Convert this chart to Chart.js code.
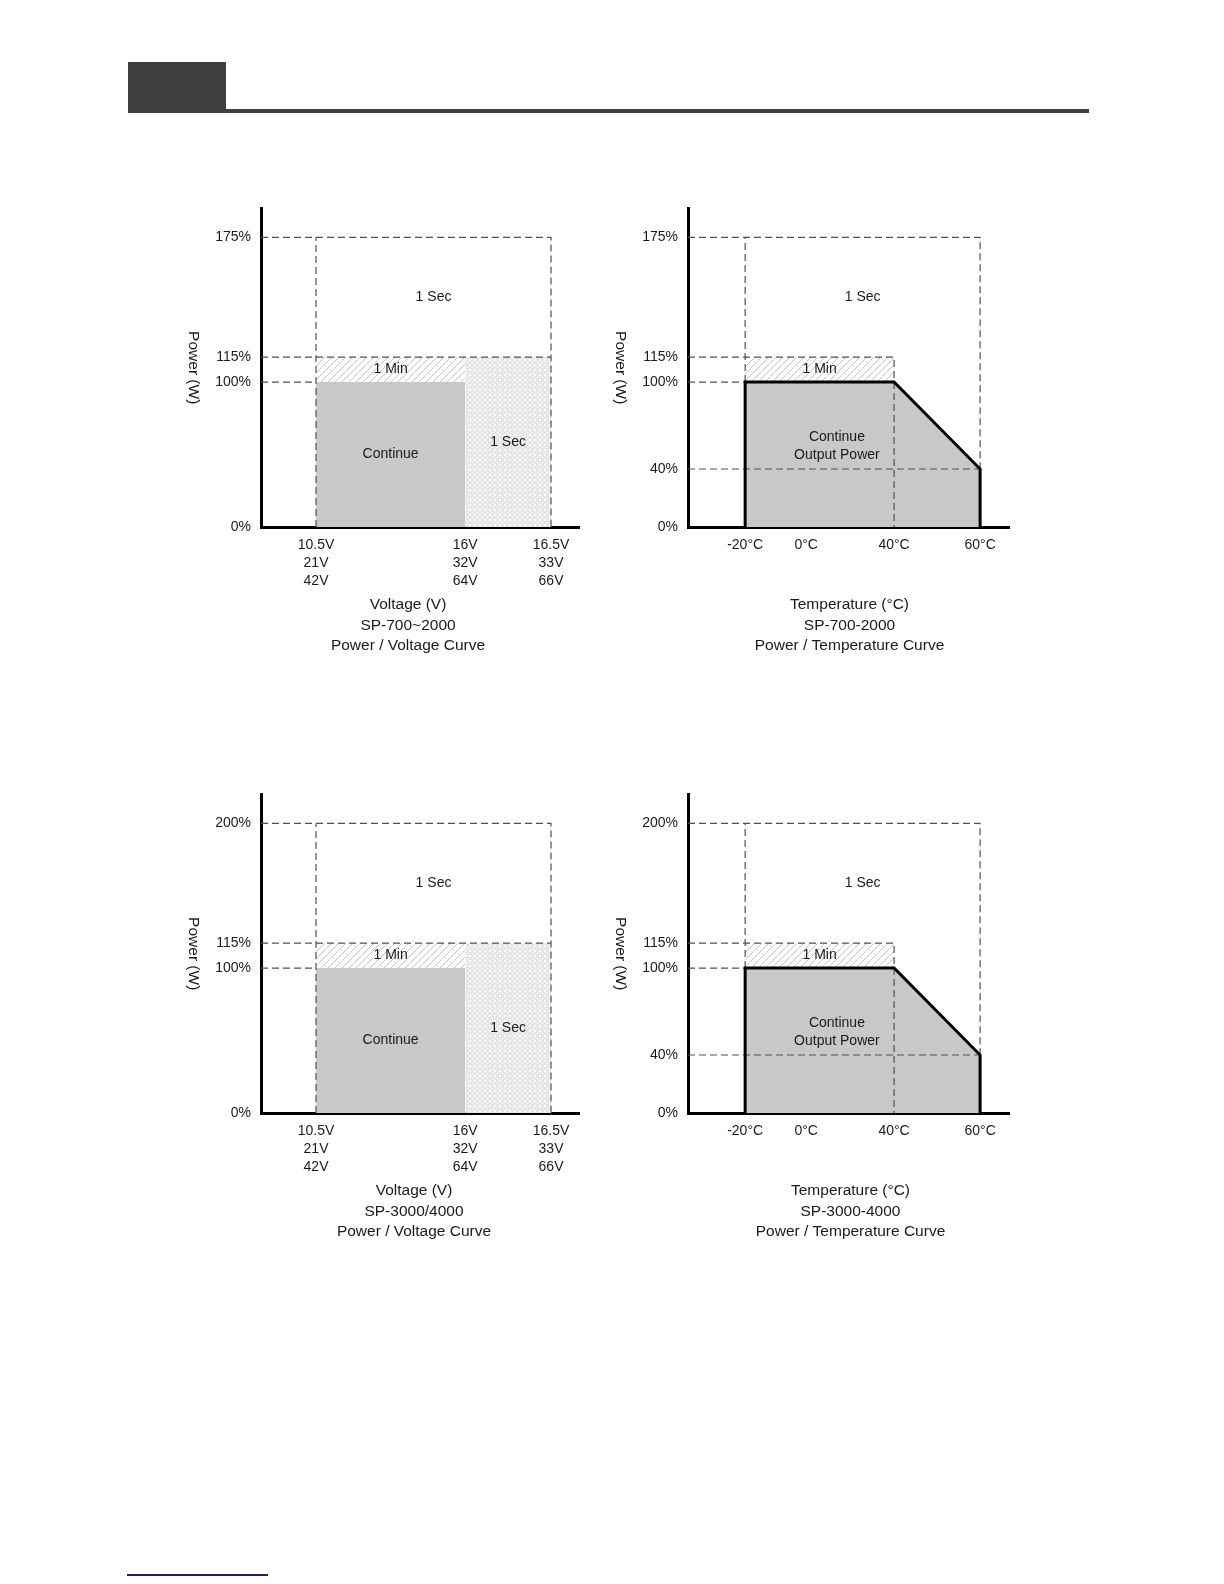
<!DOCTYPE html>
<html>
<head>
<meta charset="utf-8">
<script src="https://cdn.jsdelivr.net/npm/chart.js@4.4.1/dist/chart.umd.min.js"></script>
<style>
  body { margin: 0; background: #fff; }
  #page { position: relative; width: 1224px; height: 1584px; overflow: hidden; background: #fff; }
  .tab { position: absolute; left: 128px; top: 62px; width: 98px; height: 51px; background: #404040; }
  .rule { position: absolute; left: 226px; top: 109px; width: 863px; height: 4px; background: #404040; }
  .foot { position: absolute; left: 127px; top: 1574px; width: 141px; height: 2px; background: #1c1c80; }
  .box { position: absolute; width: 430px; height: 480px; }
</style>
</head>
<body>
<div id="page">
  <div class="tab"></div>
  <div class="rule"></div>
  <div class="box" style="left:170px;top:190px"><canvas id="voltSmall"></canvas></div>
  <div class="box" style="left:600px;top:190px"><canvas id="tempSmall"></canvas></div>
  <div class="box" style="left:170px;top:776px"><canvas id="voltLarge"></canvas></div>
  <div class="box" style="left:600px;top:776px"><canvas id="tempLarge"></canvas></div>
  <div class="foot"></div>
</div>
<script>
// ---- data read from the sheet ----
const voltTicks = [10.5, 16, 16.5];
const voltLabels = [['10.5V', '21V', '42V'], ['16V', '32V', '64V'], ['16.5V', '33V', '66V']];
const tempTicks = [-20, 0, 40, 60];
const tempLabels = ['-20°C', '0°C', '40°C', '60°C'];

const peakSmall = 175;   // SP-700~2000
const peakLarge = 200;   // SP-3000/4000
const minLevel = 115;    // 1 Min overload
const ratedLevel = 100;  // continuous
const hotLevel = 40;     // at 60°C

const voltPowerTicksSmall = [0, 100, 115, 175];
const voltPowerTicksLarge = [0, 100, 115, 200];
const tempPowerTicksSmall = [0, 40, 100, 115, 175];
const tempPowerTicksLarge = [0, 40, 100, 115, 200];

// derating curve
const deratingTemp = [-20, -20, 40, 60, 60];
const deratingPower = [0, 100, 100, 40, 0];

// ---- piecewise axis (the sheet's axes are not to scale) ----
class PiecewiseScale extends Chart.LinearScale {
  knots() {
    const raw = this.chart.config.options.scales[this.id];
    return [raw.knots, raw.fracs];
  }
  getPixelForValue(value) {
    const [k, f] = this.knots();
    let i = 0;
    while (i < k.length - 2 && value > k[i + 1]) i++;
    const t = (value - k[i]) / (k[i + 1] - k[i]);
    return this.getPixelForDecimal(f[i] + t * (f[i + 1] - f[i]));
  }
  getValueForPixel(pixel) {
    const [k, f] = this.knots();
    const d = this.getDecimalForPixel(pixel);
    let i = 0;
    while (i < f.length - 2 && d > f[i + 1]) i++;
    const t = (d - f[i]) / (f[i + 1] - f[i]);
    return k[i] + t * (k[i + 1] - k[i]);
  }
}
PiecewiseScale.id = 'piecewise';
Chart.register(PiecewiseScale);

const FONT = '"Liberation Sans", Arial, sans-serif';
const GRAY = '#c8c8c8';
const DASH = '#505050';

function hatch() {
  const c = document.createElement('canvas');
  c.width = c.height = 7;
  const g = c.getContext('2d');
  g.fillStyle = '#fff';
  g.fillRect(0, 0, 7, 7);
  g.strokeStyle = '#b4b4b4';
  g.lineWidth = 0.8;
  g.beginPath();
  g.moveTo(0, 7); g.lineTo(7, 0);
  g.moveTo(-1, 1); g.lineTo(1, -1);
  g.moveTo(6, 8); g.lineTo(8, 6);
  g.stroke();
  return g.createPattern(c, 'repeat');
}

function dots() {
  const c = document.createElement('canvas');
  c.width = c.height = 5;
  const g = c.getContext('2d');
  g.fillStyle = '#fafafa';
  g.fillRect(0, 0, 5, 5);
  g.strokeStyle = '#c4c4c4';
  g.lineWidth = 0.7;
  g.beginPath();
  g.arc(2.5, 2.5, 1.8, 0, Math.PI * 2);
  g.stroke();
  return g.createPattern(c, 'repeat');
}

function pts(xs, ys) {
  return xs.map((x, i) => ({ x: x, y: ys[i] }));
}

function guide(points) {
  return {
    data: points.map(p => ({ x: p[0], y: p[1] })),
    borderColor: DASH, borderWidth: 1.2, borderDash: [7, 4],
    fill: false, order: 1
  };
}

// draws region labels, caption and the y title
function decor(cfg) {
  return {
    id: 'decor',
    afterDraw(chart) {
      const { ctx, chartArea, scales } = chart;
      const x = scales.x, y = scales.y;
      ctx.save();
      ctx.fillStyle = '#1a1a1a';
      ctx.textAlign = 'center';
      ctx.textBaseline = 'middle';
      ctx.font = '14px ' + FONT;
      cfg.labels.forEach(l => {
        const px = (x.getPixelForValue(l.xs[0]) + x.getPixelForValue(l.xs[1])) / 2;
        const py = (y.getPixelForValue(l.ys[0]) + y.getPixelForValue(l.ys[1])) / 2;
        const lines = l.text.split('\n');
        lines.forEach((t, i) => ctx.fillText(t, px, py + (i - (lines.length - 1) / 2) * 18));
      });
      ctx.font = '15.5px ' + FONT;
      const cx = (chartArea.left + chartArea.right) / 2 + cfg.shift;
      cfg.caption.forEach((t, i) => ctx.fillText(t, cx, chartArea.bottom + 78 + i * 20.5));
      ctx.translate(chartArea.left - 68, (chartArea.top + chartArea.bottom) / 2);
      ctx.rotate(Math.PI / 2);
      ctx.fillText('Power (W)', 0, 0);
      ctx.restore();
    }
  };
}

function baseOptions(xCfg, yCfg, yWidth) {
  return {
    responsive: true,
    maintainAspectRatio: false,
    animation: false,
    events: [],
    layout: { padding: { left: 0, top: 17, right: 21, bottom: 0 } },
    elements: { point: { radius: 0 }, line: { tension: 0 } },
    plugins: { legend: { display: false }, tooltip: { enabled: false } },
    scales: {
      x: {
        type: 'piecewise',
        min: xCfg.knots[0],
        max: xCfg.knots[xCfg.knots.length - 1],
        knots: xCfg.knots,
        fracs: xCfg.fracs,
        afterBuildTicks: s => { s.ticks = xCfg.ticks.map(v => ({ value: v })); },
        afterFit: s => { s.height = 143; },
        grid: { display: false, drawTicks: false },
        border: { display: true, color: '#000', width: 3 },
        ticks: {
          autoSkip: false, maxRotation: 0, padding: 9,
          color: '#1a1a1a', font: { family: FONT, size: 14, lineHeight: 1.3 },
          callback: (v, i) => xCfg.labels[i]
        }
      },
      y: {
        type: 'piecewise',
        min: 0,
        max: yCfg.peak + 15,
        knots: [0, ratedLevel, minLevel, yCfg.peak, yCfg.peak + 15],
        fracs: [0, 0.455, 0.533, 0.909, 1],
        afterBuildTicks: s => { s.ticks = yCfg.ticks.map(v => ({ value: v })); },
        afterFit: s => { s.width = yWidth; },
        grid: { display: false, drawTicks: false },
        border: { display: true, color: '#000', width: 3 },
        ticks: {
          autoSkip: false, padding: 10,
          color: '#1a1a1a', font: { family: FONT, size: 14 },
          callback: v => v + '%'
        }
      }
    }
  };
}

function voltChart(id, peak, yTicks, caption, shift) {
  const xCfg = {
    knots: [9.5, 10.5, 16, 16.5, 17],
    fracs: [0, 0.173, 0.642, 0.912, 1],
    ticks: voltTicks, labels: voltLabels
  };
  const lo = voltTicks[0], mid = voltTicks[1], hi = voltTicks[2], x0 = xCfg.knots[0];
  new Chart(document.getElementById(id), {
    type: 'line',
    data: {
      datasets: [
        guide([[x0, peak], [hi, peak], [hi, 0]]),
        guide([[x0, minLevel], [hi, minLevel]]),
        guide([[x0, ratedLevel], [lo, ratedLevel]]),
        guide([[lo, 0], [lo, peak]]),
        { data: pts([lo, mid], [ratedLevel, ratedLevel]), fill: 'origin',
          backgroundColor: GRAY, borderWidth: 0, order: 3 },
        { data: pts([lo, mid], [minLevel, minLevel]), fill: { value: ratedLevel },
          backgroundColor: hatch(), borderWidth: 0, order: 3 },
        { data: pts([mid, hi], [minLevel, minLevel]), fill: 'origin',
          backgroundColor: dots(), borderWidth: 0, order: 3 }
      ]
    },
    options: baseOptions(xCfg, { peak: peak, ticks: yTicks }, 91),
    plugins: [decor({
      shift: shift,
      caption: caption,
      labels: [
        { text: '1 Sec', xs: [lo, hi], ys: [minLevel, peak] },
        { text: '1 Min', xs: [lo, mid], ys: [ratedLevel, minLevel] },
        { text: 'Continue', xs: [lo, mid], ys: [0, ratedLevel] },
        { text: '1 Sec', xs: [mid, hi], ys: [0, minLevel] }
      ]
    })]
  });
}

function tempChart(id, peak, yTicks, caption, shift) {
  const xCfg = {
    knots: [-40, -20, 0, 40, 60, 70],
    fracs: [0, 0.178, 0.368, 0.642, 0.910, 1],
    ticks: tempTicks, labels: tempLabels
  };
  const cold = tempTicks[0], knee = tempTicks[2], hot = tempTicks[3], x0 = xCfg.knots[0];
  new Chart(document.getElementById(id), {
    type: 'line',
    data: {
      datasets: [
        { data: pts(deratingTemp, deratingPower), borderColor: '#000', borderWidth: 3,
          borderJoinStyle: 'miter', fill: false, order: 0 },
        guide([[x0, peak], [hot, peak], [hot, hotLevel]]),
        guide([[cold, ratedLevel], [cold, peak]]),
        guide([[x0, minLevel], [knee, minLevel], [knee, 0]]),
        guide([[x0, ratedLevel], [cold, ratedLevel]]),
        guide([[x0, hotLevel], [hot, hotLevel]]),
        { data: pts(deratingTemp, deratingPower), fill: 'origin',
          backgroundColor: GRAY, borderWidth: 0, order: 3 },
        { data: pts([cold, knee], [minLevel, minLevel]), fill: { value: ratedLevel },
          backgroundColor: hatch(), borderWidth: 0, order: 3 }
      ]
    },
    options: baseOptions(xCfg, { peak: peak, ticks: yTicks }, 88),
    plugins: [decor({
      shift: shift,
      caption: caption,
      labels: [
        { text: '1 Sec', xs: [cold, hot], ys: [minLevel, peak] },
        { text: '1 Min', xs: [cold, knee], ys: [ratedLevel, minLevel] },
        { text: 'Continue\nOutput Power', xs: [14, 14], ys: [56, 56] }
      ]
    })]
  });
}

voltChart('voltSmall', peakSmall, voltPowerTicksSmall,
  ['Voltage (V)', 'SP-700~2000', 'Power / Voltage Curve'], -12);
tempChart('tempSmall', peakSmall, tempPowerTicksSmall,
  ['Temperature (°C)', 'SP-700-2000', 'Power / Temperature Curve'], 1);
voltChart('voltLarge', peakLarge, voltPowerTicksLarge,
  ['Voltage (V)', 'SP-3000/4000', 'Power / Voltage Curve'], -6);
tempChart('tempLarge', peakLarge, tempPowerTicksLarge,
  ['Temperature (°C)', 'SP-3000-4000', 'Power / Temperature Curve'], 2);
</script>
</body>
</html>
